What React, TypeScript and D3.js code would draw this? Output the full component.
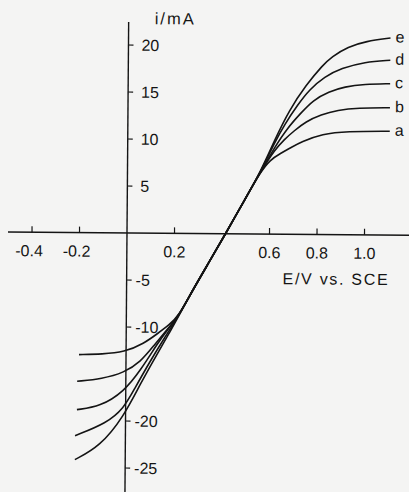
import { useEffect, useRef } from 'react';
import * as d3 from 'd3';

// tick values (0.4 V and -15 mA carry no tick)
const eTicks = [-0.4, -0.2, 0.2, 0.6, 0.8, 1.0];
const iTicks = [20, 15, 10, 5, -5, -10, -20, -25];

const curveNames = ['a', 'b', 'c', 'd', 'e'];

// [E / V, i / mA]
const curveA: [number, number][] = [
    [-0.198, -12.98], [-0.1, -12.9], [-0.008, -12.69], [0.076, -11.73], [0.132, -10.67],
    [0.18, -9.75], [0.22, -8.8], [0.279, -6.0], [0.345, -3.1], [0.415, 0], [0.497, 3.75],
    [0.56, 6.6], [0.6, 7.9], [0.644, 8.6], [0.686, 9.2], [0.73, 9.85], [0.82, 10.7], [0.92, 11.0], [1.103, 11.05],
];
const curveB: [number, number][] = [
    [-0.205, -15.82], [-0.1, -15.53], [-0.008, -14.86], [0.062, -13.69], [0.118, -11.91],
    [0.17, -10.3], [0.22, -8.8], [0.279, -6.0], [0.345, -3.1], [0.415, 0], [0.497, 3.75],
    [0.56, 6.6], [0.62, 9.0], [0.66, 10.1], [0.7, 11.0], [0.749, 12.0], [0.813, 12.75],
    [0.883, 13.25], [0.967, 13.5], [1.103, 13.55],
];
const curveC: [number, number][] = [
    [-0.205, -18.83], [-0.107, -18.48], [-0.008, -16.88], [0.062, -14.57], [0.132, -11.73],
    [0.175, -10.2], [0.22, -8.8], [0.279, -6.0], [0.345, -3.1], [0.415, 0], [0.497, 3.75],
    [0.56, 6.6], [0.62, 9.3], [0.672, 11.3], [0.728, 12.9], [0.78, 14.3], [0.845, 15.2],
    [0.911, 15.74], [0.995, 16.03], [1.103, 16.1],
];
const curveD: [number, number][] = [
    [-0.212, -21.6], [-0.079, -20.24], [-0.008, -18.65], [0.034, -16.7], [0.104, -13.51],
    [0.16, -11.17], [0.22, -8.8], [0.279, -6.0], [0.345, -3.1], [0.415, 0], [0.497, 3.75],
    [0.56, 6.6], [0.62, 9.8], [0.658, 11.6], [0.715, 13.8], [0.763, 15.4], [0.827, 16.8],
    [0.897, 17.7], [0.995, 18.4], [1.103, 18.6],
];
const curveE: [number, number][] = [
    [-0.212, -24.15], [-0.107, -22.73], [-0.008, -19.54], [0.062, -15.99], [0.132, -12.8],
    [0.175, -10.9], [0.22, -8.8], [0.279, -6.0], [0.345, -3.1], [0.415, 0], [0.497, 3.75],
    [0.56, 6.6], [0.62, 10.1], [0.679, 13.2], [0.749, 15.9], [0.82, 18.05], [0.855, 18.9],
    [0.925, 20.0], [1.0, 20.6], [1.103, 20.96],
];

const curves = [curveA, curveB, curveC, curveD, curveE];

function App() {
    const svgRef = useRef<SVGSVGElement>(null);

    useEffect(() => {
        if (!svgRef.current) return;

        const svg = d3.select(svgRef.current);
        svg.selectAll('*').remove();

        const width = 409;
        const height = 492;
        const ox = 127;
        const oy = 233;
        const font = "'Liberation Sans', Arial, sans-serif";
        const ink = '#141414';

        svg.append('rect')
            .attr('width', width)
            .attr('height', height)
            .attr('fill', '#f4f4f3');

        // 0.2 V = 47.5 px, 5 mA = 47 px
        const x = d3.scaleLinear().domain([0, 1]).range([ox, ox + 237.5]);
        const y = d3.scaleLinear().domain([0, 10]).range([oy, oy - 94]);

        // the scan is tilted a little clockwise
        const g = svg.append('g')
            .attr('transform', `rotate(0.45, ${ox}, ${oy})`);

        // axes
        g.append('line')
            .attr('x1', 8).attr('x2', width + 5)
            .attr('y1', oy).attr('y2', oy)
            .attr('stroke', ink).attr('stroke-width', 1.4);
        g.append('line')
            .attr('x1', ox).attr('x2', ox)
            .attr('y1', 22).attr('y2', height + 5)
            .attr('stroke', ink).attr('stroke-width', 1.4);

        // x ticks
        g.selectAll('.xtick')
            .data(eTicks)
            .join('line')
            .attr('x1', d => x(d)).attr('x2', d => x(d))
            .attr('y1', oy).attr('y2', oy - 6)
            .attr('stroke', ink).attr('stroke-width', 1.2);

        g.selectAll('.xlab')
            .data(eTicks)
            .join('text')
            .attr('x', d => d < 0 ? x(d) + 11 : x(d))
            .attr('y', oy + 24)
            .attr('text-anchor', d => d < 0 ? 'end' : 'middle')
            .attr('font-family', font)
            .attr('font-size', 16)
            .attr('fill', ink)
            .text(d => d.toFixed(1));

        // y ticks
        g.selectAll('.ytick')
            .data(iTicks)
            .join('line')
            .attr('x1', ox).attr('x2', ox + 5)
            .attr('y1', d => y(d)).attr('y2', d => y(d))
            .attr('stroke', ink).attr('stroke-width', 1.2);

        g.selectAll('.ylab')
            .data(iTicks)
            .join('text')
            .attr('x', d => d < 0 ? ox + 9 : ox + 13)
            .attr('y', d => y(d))
            .attr('dy', '0.36em')
            .attr('font-family', font)
            .attr('font-size', 16)
            .attr('fill', ink)
            .text(d => String(d));

        // axis titles
        g.append('text')
            .attr('x', 153).attr('y', 24)
            .attr('font-family', font)
            .attr('font-size', 16.5)
            .attr('letter-spacing', 2)
            .attr('fill', ink)
            .text('i/mA');

        g.append('text')
            .attr('x', 283).attr('y', 283)
            .attr('font-family', font)
            .attr('font-size', 16)
            .attr('letter-spacing', 1.7)
            .attr('fill', ink)
            .text('E/V vs. SCE');

        // curves
        const line = d3.line<[number, number]>()
            .x(d => x(d[0]))
            .y(d => y(d[1]))
            .curve(d3.curveBasis);

        g.selectAll('.curve')
            .data(curves)
            .join('path')
            .attr('d', d => line(d))
            .attr('fill', 'none')
            .attr('stroke', ink)
            .attr('stroke-width', 1.6);

        g.selectAll('.clab')
            .data(curves)
            .join('text')
            .attr('x', d => x(d[d.length - 1][0]) + 5)
            .attr('y', d => y(d[d.length - 1][1]) + 4.5)
            .attr('font-family', font)
            .attr('font-size', 16)
            .attr('fill', ink)
            .text((d, i) => curveNames[i]);
    }, []);

    return (
        <svg
            ref={svgRef}
            width={409}
            height={492}
            style={{ position: 'absolute', left: 0, top: 0 }}
        ></svg>
    );
}

export default App;
